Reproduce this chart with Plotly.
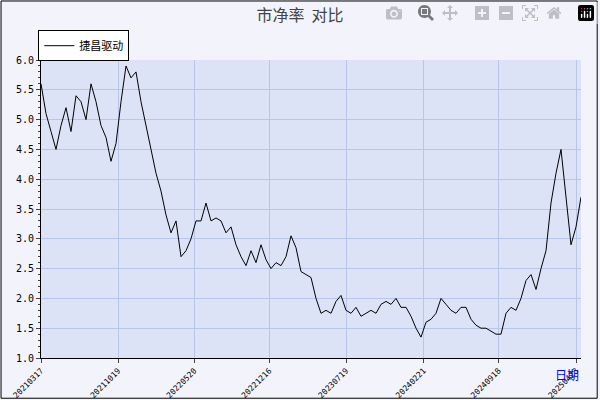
import pandas as pd
import plotly.graph_objs as go

# price-to-book ratio, sampled every two weeks
pb_values = [5.6, 5.1, 4.8, 4.5, 4.9, 5.2, 4.8, 5.4, 5.3, 5.0, 5.6, 5.3, 4.9, 4.7, 4.3, 4.6,
             5.3, 5.9, 5.7, 5.8, 5.3, 4.9, 4.5, 4.1, 3.8, 3.4, 3.1, 3.3, 2.7, 2.8, 3.0, 3.3,
             3.3, 3.6, 3.3, 3.35, 3.3, 3.1, 3.2, 2.9, 2.7, 2.55, 2.8, 2.6, 2.9, 2.65, 2.5, 2.6,
             2.55, 2.7, 3.05, 2.85, 2.45, 2.4, 2.35, 2.0, 1.75, 1.8, 1.75, 1.95, 2.05, 1.8, 1.75,
             1.85, 1.7, 1.75, 1.8, 1.75, 1.9, 1.95, 1.9, 2.0, 1.85, 1.85, 1.7, 1.5, 1.35, 1.6,
             1.65, 1.75, 2.0, 1.9, 1.8, 1.75, 1.85, 1.85, 1.65, 1.55, 1.5, 1.5, 1.45, 1.4, 1.4,
             1.75, 1.85, 1.8, 2.0, 2.3, 2.4, 2.15, 2.5, 2.8, 3.6, 4.1, 4.5, 3.7, 2.9, 3.2, 3.7]
dates = pd.date_range('2021-03-17', periods=len(pb_values), freq='14D')
tick_labels = ['20210317', '20211019', '20220520', '20221216', '20230719', '20240221', '20240918', '20250423']
tick_dates = pd.to_datetime(tick_labels)

data = [go.Scatter(x=dates, y=pb_values, mode='lines', name='捷昌驱动',
                   line=dict(color='black', width=1))]

layout = go.Layout(
    width=600, height=400,
    paper_bgcolor='#f3f4fb', plot_bgcolor='#dce3f7',
    margin=dict(l=41, r=19, t=60, b=42, autoexpand=False),
    font=dict(family='DejaVu Sans Mono', size=10, color='black'),
    title=dict(text='市净率  对比', x=0.5, y=0.975, xanchor='center',
               font=dict(family='Noto Sans CJK SC', size=16, color='#444')),
    showlegend=True,
    legend=dict(x=-0.005, y=1.1, xanchor='left', yanchor='top', bgcolor='white',
                bordercolor='black', borderwidth=1,
                font=dict(family='Noto Sans CJK SC', size=11)),
    xaxis=dict(type='date', range=[dates[0], dates[-1]], tickvals=tick_dates, ticktext=tick_labels,
               tickangle=-45, showgrid=True, gridcolor='#b9c6ec', ticks='outside', ticklen=4,
               showline=True, linecolor='black', tickfont=dict(size=8), automargin=False),
    yaxis=dict(range=[1.0, 6.0], dtick=0.5, tickformat='.1f', showgrid=True, gridcolor='#b9c6ec',
               ticks='outside', ticklen=4, showline=True, linecolor='black', zeroline=False,
               minor=dict(dtick=0.1, ticks='outside', ticklen=2), automargin=False),
    annotations=[dict(text='日期', x=1.0, y=-0.02, xref='paper', yref='paper', xanchor='right',
                      yanchor='top', showarrow=False,
                      font=dict(family='Noto Sans CJK SC', size=12, color='blue'))],
    shapes=[dict(type='rect', xref='paper', yref='paper', x0=-0.074, x1=1.03, y0=-0.135, y1=1.198,
                 line=dict(color='black', width=1))],
)

fig = go.Figure(data=data, layout=layout)
fig.write_html("out.html", post_script="document.body.style.margin='0';")
